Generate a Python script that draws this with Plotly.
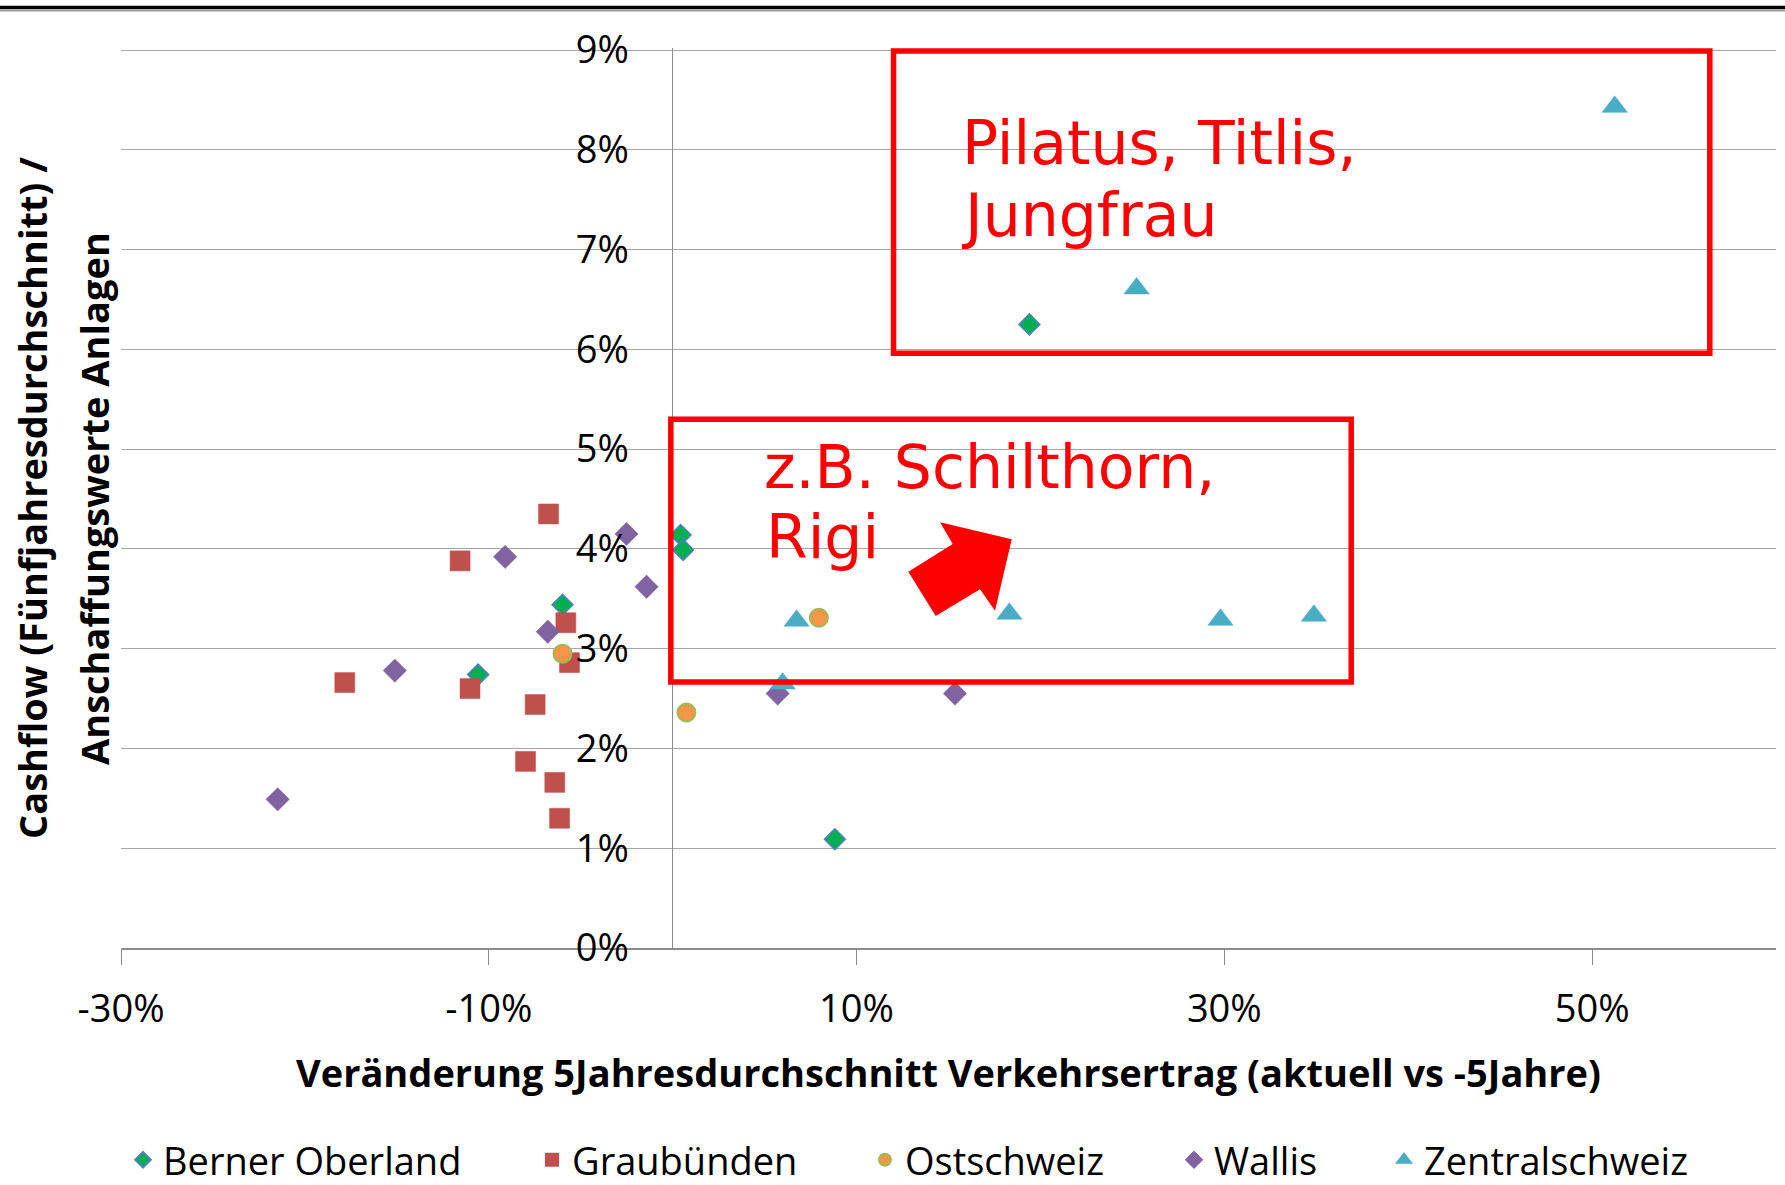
import plotly.graph_objects as go

# ---------------- data (percent) ----------------
berner_x = [-5.99, -10.58, 0.43, 0.57, 8.82, 19.4]
berner_y = [3.44, 2.74, 4.14, 3.99, 1.09, 6.25]

graub_x = [-6.75, -11.56, -5.81, -5.61, -17.83, -11.02, -7.48, -8.00, -6.41, -6.15]
graub_y = [4.35, 3.88, 3.26, 2.86, 2.66, 2.60, 2.44, 1.87, 1.66, 1.30]

ost_x = [-5.99, 0.75, 7.95]
ost_y = [2.95, 2.36, 3.31]

wallis_x = [-2.51, -9.11, -1.42, -6.79, -15.11, -21.48, 5.71, 15.35]
wallis_y = [4.15, 3.92, 3.62, 3.17, 2.78, 1.49, 2.55, 2.55]

zentral_x = [6.74, 5.98, 18.31, 29.79, 34.87, 25.23, 51.23]
zentral_y = [3.28, 2.65, 3.35, 3.29, 3.33, 6.61, 8.43]

x_tickvals = [-30, -10, 10, 30, 50]
x_ticktext = ["-30%", "-10%", "10%", "30%", "50%"]
y_tickvals = [0, 1, 2, 3, 4, 5, 6, 7, 8, 9]
y_ticktext = ["0%", "1%", "2%", "3%", "4%", "5%", "6%", "7%", "8%", "9%"]

# ---------------- layout geometry ----------------
W, H = 1785, 1185
ML, MR, MT, MB = 121, 9, 48, 237
PW = W - ML - MR
PH = H - MT - MB


def px2paper_x(px):
    return (px - ML) / PW


def px2paper_y(py):
    return (H - MB - py) / PH


XR = [-30, 60]
YR = [0, 9.02]

FONT = "Open Sans"

fig = go.Figure()

series = [
    ("Berner Oberland", berner_x, berner_y, "diamond", 16, "#00B050", "#4F81BD", 1.6, "legend"),
    ("Graubünden", graub_x, graub_y, "square", 20, "#C0504D", "#C0504D", 0.5, "legend2"),
    ("Ostschweiz", ost_x, ost_y, "circle", 18, "#F79646", "#9BBB59", 2, "legend3"),
    ("Wallis", wallis_x, wallis_y, "diamond", 18, "#8064A2", "#8064A2", 0.5, "legend4"),
    ("Zentralschweiz", zentral_x, zentral_y, "triangle-up", 22, "#4BACC6", "#4BACC6", 0.5, "legend5"),
]

for name, xs, ys, sym, size, fill, edge, lw, leg in series:
    fig.add_trace(go.Scatter(
        x=xs, y=ys, mode="markers", name=name, legend=leg,
        marker=dict(symbol=sym, size=size, color=fill, line=dict(color=edge, width=lw)),
        cliponaxis=False,
    ))

# legend marker centre pixel positions in the reference
legend_marker_px = [141, 550, 883, 1192, 1402]
legend_y = px2paper_y(1160)
leg_keys = ["legend", "legend2", "legend3", "legend4", "legend5"]
legend_cfg = {}
for key, mpx in zip(leg_keys, legend_marker_px):
    legend_cfg[key] = dict(
        x=px2paper_x(mpx - 18), xanchor="left",
        y=legend_y, yanchor="middle",
        orientation="h", bgcolor="rgba(0,0,0,0)",
        font=dict(family=FONT, size=38, color="#000000"),
        itemsizing="constant",
    )

fig.update_layout(
    width=W, height=H,
    margin=dict(l=ML, r=MR, t=MT, b=MB, autoexpand=False),
    paper_bgcolor="white", plot_bgcolor="white",
    showlegend=True,
    **legend_cfg,
    xaxis=dict(
        range=XR, tickvals=x_tickvals, ticktext=x_ticktext,
        showgrid=False, zeroline=True, zerolinecolor="#8C8C8C", zerolinewidth=1.3,
        showline=True, linecolor="#8C8C8C", linewidth=1.5,
        ticks="outside", ticklen=15, tickcolor="#8C8C8C", tickwidth=1.3,
        tickfont=dict(family=FONT, size=38, color="#000000"),
        ticklabelstandoff=12, automargin=False,
    ),
    yaxis=dict(
        range=YR, tickvals=y_tickvals, ticktext=y_ticktext,
        anchor="free", position=px2paper_x(672.8),
        showgrid=True, gridcolor="#A6A6A6", gridwidth=1.3,
        zeroline=False, showline=False, ticks="",
        tickfont=dict(family=FONT, size=38, color="#000000"),
        ticklabelstandoff=44, automargin=False,
    ),
)

# axis titles as annotations
fig.add_annotation(
    text="Veränderung 5Jahresdurchschnitt Verkehrsertrag (aktuell vs -5Jahre)",
    xref="paper", yref="paper", x=px2paper_x(948), y=px2paper_y(1072),
    xanchor="center", yanchor="middle", showarrow=False,
    font=dict(family=FONT, size=38, color="#000000", weight="bold"),
)
fig.add_annotation(
    text="Cashflow (Fünfjahresdurchschnitt) /",
    xref="paper", yref="paper", x=px2paper_x(32), y=px2paper_y(498),
    xanchor="center", yanchor="middle", textangle=-90, showarrow=False,
    font=dict(family=FONT, size=38, color="#000000", weight="bold"),
)
fig.add_annotation(
    text="Anschaffungswerte Anlagen",
    xref="paper", yref="paper", x=px2paper_x(94), y=px2paper_y(499),
    xanchor="center", yanchor="middle", textangle=-90, showarrow=False,
    font=dict(family=FONT, size=38, color="#000000", weight="bold"),
)

# red callout texts
RED = "#FF0000"
callouts = [
    ("Pilatus, Titlis,", 15.62, 8.07),
    ("Jungfrau", 15.55, 7.35),
    ("z.B. Schilthorn,", 4.85, 4.82),
    ("Rigi", 4.95, 4.12),
]
for txt, cx, cy in callouts:
    fig.add_annotation(
        text=txt, x=cx, y=cy, xref="x", yref="y",
        xanchor="left", yanchor="middle", showarrow=False,
        font=dict(family="DejaVu Sans", size=60, color=RED),
    )

# red boxes
fig.add_shape(type="rect", xref="x", yref="y", x0=12.01, x1=56.4, y0=5.96, y1=8.99,
              line=dict(color=RED, width=5.5), fillcolor="rgba(0,0,0,0)", layer="above")
fig.add_shape(type="rect", xref="x", yref="y", x0=-0.1, x1=36.9, y0=2.665, y1=5.30,
              line=dict(color=RED, width=5.5), fillcolor="rgba(0,0,0,0)", layer="above")

# block arrow (pixel vertices -> paper)
arrow_px = [(1011.7, 539.3), (940, 522.3), (952.7, 544), (908.3, 571.7),
            (935.7, 616), (980, 589.3), (995, 610.7)]
path = "M " + " L ".join(f"{px2paper_x(a):.5f},{px2paper_y(b):.5f}" for a, b in arrow_px) + " Z"
fig.add_shape(type="path", xref="paper", yref="paper", path=path,
              fillcolor=RED, line=dict(color=RED, width=0), layer="above")

# top border line
fig.add_shape(type="line", xref="paper", yref="paper",
              x0=px2paper_x(0), x1=px2paper_x(W), y0=px2paper_y(7.5), y1=px2paper_y(7.5),
              line=dict(color="#000000", width=3.5))
fig.add_shape(type="line", xref="paper", yref="paper",
              x0=px2paper_x(0), x1=px2paper_x(W), y0=px2paper_y(10.5), y1=px2paper_y(10.5),
              line=dict(color="#A0A0A0", width=2))

fig.write_html(
    "out.html",
    config={"displayModeBar": False},
    post_script="document.body.style.margin='0';document.body.style.padding='0';",
)
